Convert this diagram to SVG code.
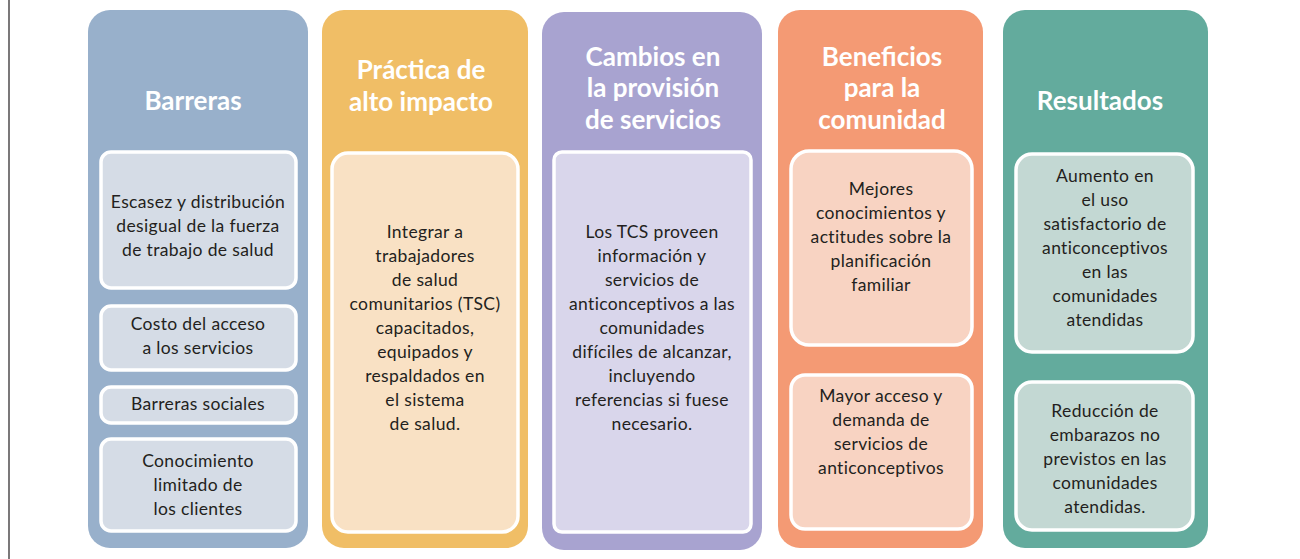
<svg xmlns="http://www.w3.org/2000/svg" width="1300" height="559" viewBox="0 0 1300 559">
<style>
.t{font-family:Lato,"Liberation Sans",sans-serif;font-weight:bold;font-size:26px;fill:#ffffff;text-anchor:middle}
.b{font-family:Lato,"Liberation Sans",sans-serif;font-size:17.5px;letter-spacing:0.35px;fill:#231f20;text-anchor:middle}
.in{stroke:#ffffff;stroke-width:3.5}
</style>
<rect width="1300" height="559" fill="#ffffff"/>
<line x1="9" y1="0" x2="9" y2="559" stroke="#231f20" stroke-width="1.2"/>
<g id="connectors"></g>
<g id="barreras">
<rect x="88" y="10" width="220" height="538" rx="22" fill="#98b0cb"/>
<text class="t" x="193" y="110">Barreras</text>
<rect class="in" x="101" y="152" width="195" height="136" rx="10" fill="#d5dce6"/>
<text class="b"><tspan x="198" y="208">Escasez y distribución</tspan><tspan x="198" y="232">desigual de la fuerza</tspan><tspan x="198" y="256">de trabajo de salud</tspan></text>
<rect class="in" x="101" y="306" width="195" height="64" rx="10" fill="#d5dce6"/>
<text class="b"><tspan x="198" y="330">Costo del acceso</tspan><tspan x="198" y="354">a los servicios</tspan></text>
<rect class="in" x="101" y="387" width="195" height="36" rx="10" fill="#d5dce6"/>
<text class="b"><tspan x="198" y="410">Barreras sociales</tspan></text>
<rect class="in" x="101" y="439" width="195" height="92" rx="10" fill="#d5dce6"/>
<text class="b"><tspan x="198" y="467">Conocimiento</tspan><tspan x="198" y="491">limitado de</tspan><tspan x="198" y="515">los clientes</tspan></text>
</g>
<g id="practica">
<rect x="322" y="10" width="206" height="538" rx="22" fill="#f0be66"/>
<text class="t"><tspan x="421" y="79">Práctica de</tspan><tspan x="421" y="111">alto impacto</tspan></text>
<rect class="in" x="332" y="153" width="186" height="379" rx="16" fill="#f9e1c4"/>
<text class="b"><tspan x="425" y="238">Integrar a</tspan><tspan x="425" y="262">trabajadores</tspan><tspan x="425" y="286">de salud</tspan><tspan x="425" y="310">comunitarios (TSC)</tspan><tspan x="425" y="334">capacitados,</tspan><tspan x="425" y="358">equipados y</tspan><tspan x="425" y="382">respaldados en</tspan><tspan x="425" y="406">el sistema</tspan><tspan x="425" y="430">de salud.</tspan></text>
</g>
<g id="cambios">
<rect x="542" y="12" width="220" height="538" rx="22" fill="#a8a3d0"/>
<text class="t"><tspan x="653" y="66">Cambios en</tspan><tspan x="653" y="97">la provisión</tspan><tspan x="653" y="129">de servicios</tspan></text>
<rect class="in" x="554" y="152" width="197" height="380" rx="8" fill="#d9d6eb"/>
<text class="b"><tspan x="652" y="238">Los TCS proveen</tspan><tspan x="652" y="262">información y</tspan><tspan x="652" y="286">servicios de</tspan><tspan x="652" y="310">anticonceptivos a las</tspan><tspan x="652" y="334">comunidades</tspan><tspan x="652" y="358">difíciles de alcanzar,</tspan><tspan x="652" y="382">incluyendo</tspan><tspan x="652" y="406">referencias si fuese</tspan><tspan x="652" y="430">necesario.</tspan></text>
</g>
<g id="beneficios">
<rect x="778" y="10" width="205" height="538" rx="22" fill="#f49a74"/>
<text class="t"><tspan x="882" y="66">Beneficios</tspan><tspan x="882" y="97">para la</tspan><tspan x="882" y="129">comunidad</tspan></text>
<rect class="in" x="791" y="151" width="181" height="194" rx="18" fill="#f8d3c2"/>
<text class="b"><tspan x="881" y="195">Mejores</tspan><tspan x="881" y="219">conocimientos y</tspan><tspan x="881" y="243">actitudes sobre la</tspan><tspan x="881" y="267">planificación</tspan><tspan x="881" y="291">familiar</tspan></text>
<rect class="in" x="791" y="375" width="181" height="154" rx="14" fill="#f8d3c2"/>
<text class="b"><tspan x="881" y="402">Mayor acceso y</tspan><tspan x="881" y="426">demanda de</tspan><tspan x="881" y="450">servicios de</tspan><tspan x="881" y="474">anticonceptivos</tspan></text>
</g>
<g id="resultados">
<rect x="1003" y="10" width="205" height="538" rx="22" fill="#63ab9d"/>
<text class="t" x="1100" y="110">Resultados</text>
<rect class="in" x="1016" y="154" width="177" height="198" rx="16" fill="#c3d8d3"/>
<text class="b"><tspan x="1105" y="182">Aumento en</tspan><tspan x="1105" y="206">el uso</tspan><tspan x="1105" y="230">satisfactorio de</tspan><tspan x="1105" y="254">anticonceptivos</tspan><tspan x="1105" y="278">en las</tspan><tspan x="1105" y="302">comunidades</tspan><tspan x="1105" y="326">atendidas</tspan></text>
<rect class="in" x="1016" y="382" width="177" height="148" rx="16" fill="#c3d8d3"/>
<text class="b"><tspan x="1105" y="417">Reducción de</tspan><tspan x="1105" y="441">embarazos no</tspan><tspan x="1105" y="465">previstos en las</tspan><tspan x="1105" y="489">comunidades</tspan><tspan x="1105" y="513">atendidas.</tspan></text>
</g>
</svg>
